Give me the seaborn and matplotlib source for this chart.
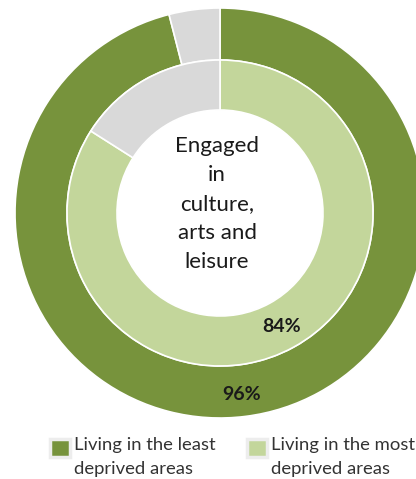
import matplotlib
matplotlib.use("Agg")
import matplotlib.pyplot as plt
from matplotlib.patches import Rectangle
import seaborn as sns

# Share of residents engaged in culture, arts and leisure
groups = ["Living in the least\ndeprived areas", "Living in the most\ndeprived areas"]
engaged = [96, 84]
group_colors = ["#77933C", "#C3D69B"]
rest_color = "#D9D9D9"
centre_label = "Engaged\nin\nculture,\narts and\nleisure"

sns.set_theme(style="white")
plt.rcParams["font.family"] = ["Lato", "DejaVu Sans"]

W, H = 416, 479
fig = plt.figure(figsize=(W / 100, H / 100), dpi=100)
ax = fig.add_axes([0, 0, 1, 1])

cx, cy = 220, H - 213
rings = [(205, 52), (153, 50)]  # (outer radius, width) per group

for (radius, width), val, col in zip(rings, engaged, group_colors):
    ax.pie(
        [val, 100 - val],
        colors=[col, rest_color],
        startangle=90,
        counterclock=False,
        center=(cx, cy),
        radius=radius,
        wedgeprops=dict(width=width, edgecolor="white", linewidth=1.2),
        frame=True,
    )
ax.set_xlim(0, W)
ax.set_ylim(0, H)
ax.set_aspect("equal")
ax.axis("off")

# value labels
ax.text(242, H - 394, f"{engaged[0]}%", ha="center", va="center",
        fontsize=14, fontweight="bold", color="#1a1a1a")
ax.text(282, H - 327, f"{engaged[1]}%", ha="center", va="center",
        fontsize=14, fontweight="bold", color="#1a1a1a")

ax.text(217, H - 204, centre_label, ha="center", va="center",
        fontsize=16, color="#1a1a1a", linespacing=1.55)

# legend: swatch aligned with the first text line
legend_x = [50, 247]
for x0, label, col in zip(legend_x, groups, group_colors):
    ax.add_patch(Rectangle((x0, H - 457), 20, 18, facecolor=col,
                           edgecolor="#EDEDED", linewidth=2.5, clip_on=False))
    ax.text(x0 + 24, H - 437, label, ha="left", va="top", fontsize=13.3,
            color="#333333", linespacing=1.65)

fig.savefig("out.png", dpi=100)
